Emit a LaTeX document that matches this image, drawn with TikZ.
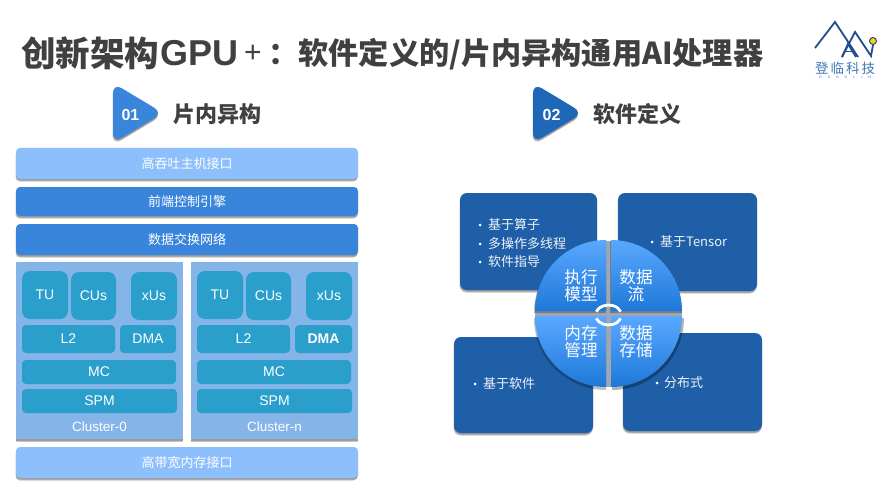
\documentclass[tikz,border=0pt]{standalone}
\usepackage{fontspec}
\setmainfont{Liberation Sans}
\newfontfamily\cjk{Noto Sans CJK SC}
\usetikzlibrary{shadows,calc}
\definecolor{lightbar}{HTML}{8CBFFB}
\definecolor{midbar}{HTML}{3A85DC}
\definecolor{clusterbg}{HTML}{85B4E8}
\definecolor{unit}{HTML}{2A9FCC}
\definecolor{darkbox}{HTML}{1F5FA8}
\definecolor{tri}{HTML}{1F68B8}
\definecolor{titlegray}{HTML}{404040}
\definecolor{logoblue}{HTML}{1F4E8C}
\definecolor{quadlow}{HTML}{1E78D8}
\definecolor{quadhigh}{HTML}{5AA8FF}
\definecolor{gapgray}{HTML}{9FA8B2}
\tikzset{
  softshadow/.style={drop shadow={shadow xshift=0pt,shadow yshift=-1.5pt,opacity=.22,fill=black},
                     drop shadow={shadow xshift=-.5pt,shadow yshift=-2.5pt,opacity=.22,fill=black}},
  barbox/.style={draw=none,rounded corners=4pt,inner sep=0pt,text=white,softshadow,font=\cjk\fontsize{13}{13}\selectfont},
  clusterbox/.style={draw=none,fill=clusterbg,inner sep=0pt,softshadow},
  unitbox/.style={draw=none,fill=unit,inner sep=0pt,text=white,font=\fontsize{14}{14}\selectfont},
  unittall/.style={unitbox,rounded corners=8pt},
  unitflat/.style={unitbox,rounded corners=4pt},
  infobox/.style={draw=none,fill=darkbox,rounded corners=7pt,inner sep=0pt,softshadow},
  bullettext/.style={text=white!92!darkbox,anchor=west,inner sep=0pt,font=\cjk\fontsize{13}{13}\selectfont},
  bulletdot/.style={circle,fill=white,inner sep=0pt,minimum size=3pt},
  quad/.style={top color=#1,bottom color=quadlow,draw=none},
  quadlabel/.style={text=white,align=center,inner sep=0pt,font=\cjk\fontsize{16.6}{17}\selectfont},
  heading/.style={text=titlegray,anchor=west,inner sep=0pt,font=\cjk\bfseries\fontsize{22}{22}\selectfont},
  badge/.style={text=white,inner sep=0pt,font=\bfseries\fontsize{16}{16}\selectfont},
  logoline/.style={draw=logoblue,line width=1.8pt,line join=miter},
  titlepart/.style={anchor=west,inner sep=0pt,text=titlegray},
}
% box from corners: name, x1, y1, x2, y2, style, text
\newcommand{\pxbox}[7]{%
  \pgfmathsetmacro{\bxc}{((#2)+(#4))/2}\pgfmathsetmacro{\byc}{((#3)+(#5))/2}%
  \pgfmathsetmacro{\bw}{(#4)-(#2)}\pgfmathsetmacro{\bh}{(#5)-(#3)}%
  \node[#6,minimum width=\bw pt,minimum height=\bh pt] (#1) at (\bxc,\byc) {#7};}
\newcommand{\clusterunits}[3]{% prefix, x offset, label
  \pxbox{#1bg}{16+#2}{262}{183+#2}{439}{clusterbox}{}
  \pxbox{#1tu}{22+#2}{271}{68+#2}{319}{unittall}{TU}
  \pxbox{#1cu}{71+#2}{272}{116+#2}{320}{unittall}{CUs}
  \pxbox{#1xu}{131+#2}{272}{177+#2}{320}{unittall}{xUs}
  \pxbox{#1l}{22+#2}{325}{115+#2}{353}{unitflat}{L2}
  \pxbox{#1mc}{22+#2}{360}{176+#2}{384}{unitflat}{MC}
  \pxbox{#1sp}{22+#2}{389}{177+#2}{413}{unitflat}{SPM}
  \node[text=white,inner sep=0pt,font=\fontsize{13.5}{13.5}\selectfont] (#1lab) at (99.5+#2,426.5) {#3};
}
\begin{document}
\begin{tikzpicture}[x=1pt,y=-1pt]
\useasboundingbox (0,0) rectangle (889,500);
\fill[white] (0,0) rectangle (889,500);
% title
\node[titlepart] (title1) at (21,53) {\cjk\bfseries\fontsize{34.5}{34}\selectfont 创新架构};
\node[titlepart] (title2) at (160,53) {\bfseries\fontsize{36}{34}\selectfont GPU};
\node[titlepart] (title3) at (244,54) {\fontsize{30}{30}\selectfont +};
\node[titlepart] (title4) at (268,54) {\cjk\bfseries\fontsize{30.2}{30}\selectfont ：软件定义的/片内异构通用AI处理器};
% logo
\draw[logoline] (815,48) -- (835,22) -- (858,57);
\draw[logoline] (842,57) -- (855,32) -- (871,56) -- (873,45);
\draw[logoline] (842,57) -- (848,44) -- (856,57);
\draw[logoline,line width=1pt] (845,52) -- (853,52);
\node[circle,fill=yellow!70!orange,draw=logoblue,line width=1pt,inner sep=0pt,minimum size=7pt] (logodot) at (873,41) {};
\node[inner sep=0pt,text=darkbox!85!white,font=\cjk\fontsize{13.5}{13.5}\selectfont] (logotext) at (845,68) {登\hspace{2pt}临\hspace{2pt}科\hspace{2pt}技};
\node[inner sep=0pt,text=darkbox!85!white,font=\fontsize{3.5}{3.5}\selectfont] (logosub) at (845,77.5) {D\hspace{6pt}E\hspace{6pt}N\hspace{6pt}G\hspace{6pt}L\hspace{6pt}I\hspace{6pt}N};
% section badges
\fill[midbar,rounded corners=10pt,softshadow] (113,83) -- (163,113) -- (113,143) -- cycle;
\node[badge] (b1) at (130.5,114.5) {01};
\node[heading] (h1) at (173,114) {片内异构};
\fill[tri,rounded corners=10pt,softshadow] (533,83) -- (583,113) -- (533,143) -- cycle;
\node[badge] (b2) at (551.5,114.5) {02};
\node[heading] (h2) at (593,114) {软件定义};
% left stack
\pxbox{hostif}{16}{148}{358}{179}{barbox,fill=lightbar}{高吞吐主机接口}
\pxbox{front}{16}{187}{358}{216}{barbox,fill=midbar}{前端控制引擎}
\pxbox{noc}{16}{224}{358}{255}{barbox,fill=midbar}{数据交换网络}
\clusterunits{a}{0}{Cluster-0}
\pxbox{adma}{120}{325}{176}{353}{unitflat}{DMA}
\clusterunits{b}{175}{Cluster-n}
\pxbox{bdma}{295}{325}{352}{353}{unitflat,font=\bfseries\fontsize{14}{14}\selectfont}{DMA}
\pxbox{memif}{16}{447}{358}{478}{barbox,fill=lightbar}{高带宽内存接口}
% right info boxes
\pxbox{tl}{460}{193}{597}{290}{infobox}{}
\pxbox{tr}{618}{193}{757}{291}{infobox}{}
\pxbox{bl}{454}{337}{593}{433}{infobox}{}
\pxbox{br}{623}{333}{762}{431}{infobox}{}
\node[bulletdot] (d1) at (480,225) {};
\node[bullettext] (t1) at (488,225) {基于算子};
\node[bulletdot] (d2) at (480,244) {};
\node[bullettext] (t2) at (488,244) {多操作多线程};
\node[bulletdot] (d3) at (480,262) {};
\node[bullettext] (t3) at (488,262) {软件指导};
\node[bulletdot] (d4) at (652,242) {};
\node[bullettext] (t4) at (660,242) {基于Tensor};
\node[bulletdot] (d5) at (475,384) {};
\node[bullettext] (t5) at (483,384) {基于软件};
\node[bulletdot] (d6) at (657,383) {};
\node[bullettext] (t6) at (664,383) {分布式};
% centre disc: gaps between quadrants
\fill[gapgray] (606,241) rectangle (611,387);
\fill[gapgray] (535,311) rectangle (682,316);
% centre disc: shadows
\fill[black,opacity=.25] (534,313) arc[start angle=180,end angle=270,radius=72] -- (606,313) -- cycle;
\fill[black,opacity=.25] (610,241) arc[start angle=270,end angle=360,radius=72] -- (610,313) -- cycle;
\fill[black,opacity=.25] (606,390) arc[start angle=90,end angle=180,radius=72] -- (606,318) -- cycle;
\fill[black,opacity=.3] (684,318) arc[start angle=0,end angle=90,radius=72] -- (612,318) -- cycle;
% centre disc: quadrants
\shade[quad=quadhigh] (535,311) arc[start angle=180,end angle=270,radius=71] -- (606,311) -- cycle;
\shade[quad=quadhigh] (611,240) arc[start angle=270,end angle=360,radius=71] -- (611,311) -- cycle;
\shade[quad=quadhigh] (606,387) arc[start angle=90,end angle=180,radius=71] -- (606,316) -- cycle;
\shade[quad=quadhigh] (682,316) arc[start angle=0,end angle=90,radius=71] -- (611,316) -- cycle;
% centre ring
\draw[white,line width=2.8pt] (596.3,311.6) arc[x radius=13,y radius=10,start angle=200,end angle=340];
\draw[white,line width=2.8pt] (596.3,318.4) arc[x radius=13,y radius=10,start angle=160,end angle=20];
\node[quadlabel] (q1) at (581,286) {执行\\模型};
\node[quadlabel] (q2) at (636,286) {数据\\流};
\node[quadlabel] (q3) at (581,341.5) {内存\\管理};
\node[quadlabel] (q4) at (636,341.5) {数据\\存储};
\end{tikzpicture}
\end{document}
